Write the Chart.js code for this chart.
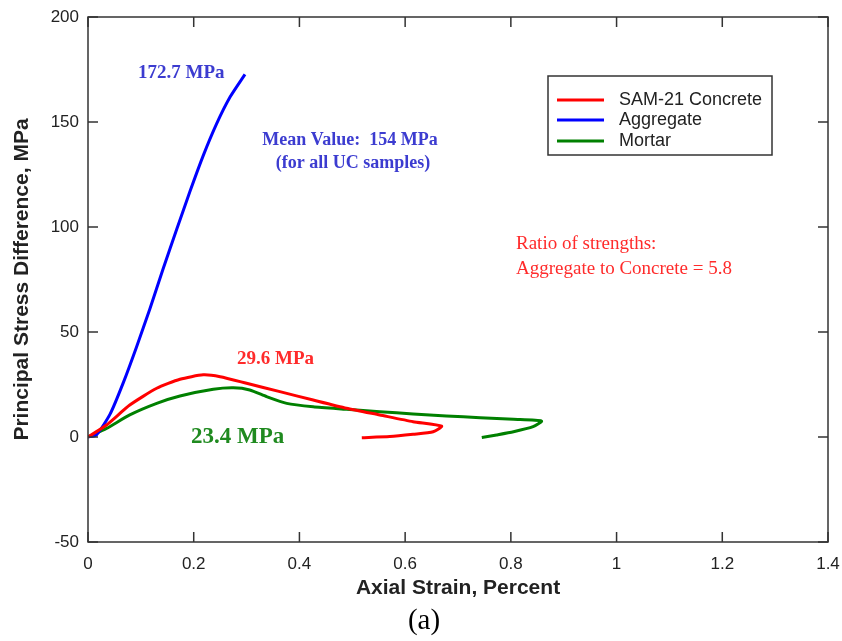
<!DOCTYPE html>
<html>
<head>
<meta charset="utf-8">
<script src="https://cdn.jsdelivr.net/npm/chart.js@4/dist/chart.umd.min.js"></script>
<style>
  html, body { margin: 0; padding: 0; background: #fff; }
  #wrap { width: 842px; height: 641px; position: relative; }
</style>
</head>
<body>
<div id="wrap"><canvas id="strainChart"></canvas></div>
<script>
// 곡선 데이터
const concreteStrain = [0, 0.035, 0.079, 0.13, 0.174, 0.218, 0.25, 0.30, 0.363, 0.426, 0.489, 0.552, 0.615, 0.669, 0.653, 0.615, 0.571, 0.518];
const concreteStress = [0, 5.7, 15.2, 23.2, 27.5, 29.6, 28.7, 25.6, 21.6, 17.6, 13.7, 10.5, 7.3, 5.2, 2.5, 1.3, 0.2, -0.3];

const aggregateStrain = [0, 0.016, 0.042, 0.067, 0.092, 0.117, 0.142, 0.168, 0.193, 0.218, 0.243, 0.269, 0.297];
const aggregateStress = [0, 1, 11, 26, 43, 61, 80, 99, 117, 134, 149, 162, 172.7];

const mortarStrain = [0, 0.035, 0.079, 0.13, 0.174, 0.237, 0.275, 0.306, 0.338, 0.376, 0.426, 0.489, 0.552, 0.615, 0.678, 0.742, 0.805, 0.858, 0.842, 0.805, 0.773, 0.745];
const mortarStress = [0, 4.1, 10.5, 16, 19.5, 22.7, 23.4, 22.4, 19.2, 16, 14.4, 13.2, 12, 11, 10, 9.2, 8.4, 7.6, 4.9, 2.5, 1, -0.2];

const seriesLabels = ["SAM-21 Concrete", "Aggregate", "Mortar"];
const seriesColors = ["#ff0000", "#0000ff", "#008000"];

const xTicks = [0, 0.2, 0.4, 0.6, 0.8, 1, 1.2, 1.4];
const yTicks = [-50, 0, 50, 100, 150, 200];

function toPoints(xs, ys) {
  return xs.map((x, i) => ({ x, y: ys[i] }));
}

// 박스 테두리 + 안쪽 눈금 + 주석 + 범례
const boxPlugin = {
  id: "boxPlugin",
  afterDraw(chart) {
    const ctx = chart.ctx;
    const area = chart.chartArea;
    const xs = chart.scales.x;
    const ys = chart.scales.y;

    ctx.save();
    ctx.strokeStyle = "#333";
    ctx.lineWidth = 1.5;
    ctx.strokeRect(area.left, area.top, area.right - area.left, area.bottom - area.top);

    ctx.beginPath();
    xTicks.forEach((v) => {
      const px = xs.getPixelForValue(v);
      ctx.moveTo(px, area.bottom); ctx.lineTo(px, area.bottom - 10);
      ctx.moveTo(px, area.top); ctx.lineTo(px, area.top + 10);
    });
    yTicks.forEach((v) => {
      const py = ys.getPixelForValue(v);
      ctx.moveTo(area.left, py); ctx.lineTo(area.left + 10, py);
      ctx.moveTo(area.right, py); ctx.lineTo(area.right - 10, py);
    });
    ctx.stroke();

    // 주석 텍스트
    ctx.textBaseline = "middle";
    ctx.textAlign = "left";
    ctx.fillStyle = "#3c3cd0";
    ctx.font = "bold 19px 'Liberation Serif'";
    ctx.fillText("172.7 MPa", 138, 73);
    ctx.font = "bold 18px 'Liberation Serif'";
    ctx.textAlign = "center";
    ctx.fillText("Mean Value:  154 MPa", 350, 140);
    ctx.fillText("(for all UC samples)", 353, 163);

    ctx.textAlign = "left";
    ctx.fillStyle = "#ff2b2b";
    ctx.font = "bold 19px 'Liberation Serif'";
    ctx.fillText("29.6 MPa", 237, 359);
    ctx.font = "19px 'Liberation Serif'";
    ctx.fillText("Ratio of strengths:", 516, 244);
    ctx.fillText("Aggregate to Concrete = 5.8", 516, 269);

    ctx.fillStyle = "#1f8a1f";
    ctx.font = "bold 23px 'Liberation Serif'";
    ctx.fillText("23.4 MPa", 191, 437);

    // 범례
    ctx.fillStyle = "#fff";
    ctx.fillRect(548, 76, 224, 79);
    ctx.strokeStyle = "#333";
    ctx.lineWidth = 1.5;
    ctx.strokeRect(548, 76, 224, 79);
    const rows = [100, 120, 141];
    ctx.font = "18px 'Liberation Sans'";
    chart.data.datasets.forEach((ds, i) => {
      ctx.strokeStyle = ds.borderColor;
      ctx.lineWidth = 3;
      ctx.beginPath();
      ctx.moveTo(557, rows[i]);
      ctx.lineTo(604, rows[i]);
      ctx.stroke();
      ctx.fillStyle = "#222";
      ctx.fillText(ds.label, 619, rows[i]);
    });

    // 그림 번호
    ctx.textAlign = "center";
    ctx.fillStyle = "#000";
    ctx.font = "29px 'Liberation Serif'";
    ctx.fillText("(a)", 424, 621);
    ctx.restore();
  }
};

const ctx = document.getElementById("strainChart").getContext("2d");

new Chart(ctx, {
  type: "scatter",
  data: {
    datasets: [
      {
        label: seriesLabels[0],
        data: toPoints(concreteStrain, concreteStress),
        borderColor: seriesColors[0],
        backgroundColor: seriesColors[0]
      },
      {
        label: seriesLabels[1],
        data: toPoints(aggregateStrain, aggregateStress),
        borderColor: seriesColors[1],
        backgroundColor: seriesColors[1]
      },
      {
        label: seriesLabels[2],
        data: toPoints(mortarStrain, mortarStress),
        borderColor: seriesColors[2],
        backgroundColor: seriesColors[2]
      }
    ].map((ds) => ({ ...ds, showLine: true, borderWidth: 3, pointRadius: 0, tension: 0.2 }))
  },
  options: {
    responsive: true,
    maintainAspectRatio: false,
    animation: false,
    layout: {
      padding: { top: 17, right: 14, left: 0, bottom: 0 }
    },
    plugins: {
      legend: { display: false },
      tooltip: { enabled: false }
    },
    scales: {
      x: {
        type: "linear",
        min: 0,
        max: 1.4,
        afterFit: (scale) => {
          scale.height = 99;
          scale.paddingLeft = 0;
          scale.paddingRight = 0;
        },
        afterBuildTicks: (scale) => { scale.ticks = xTicks.map((v) => ({ value: v })); },
        ticks: {
          color: "#222",
          padding: 12,
          font: { family: "'Liberation Sans'", size: 17 },
          callback: (v) => String(v)
        },
        grid: { display: false, drawTicks: false },
        border: { display: false },
        title: {
          display: true,
          text: "Axial Strain, Percent",
          color: "#222",
          font: { family: "'Liberation Sans'", size: 21, weight: "bold" },
          padding: { top: 0, bottom: 40 }
        }
      },
      y: {
        type: "linear",
        min: -50,
        max: 200,
        afterFit: (scale) => {
          scale.width = 88;
          scale.paddingTop = 0;
          scale.paddingBottom = 0;
        },
        afterBuildTicks: (scale) => { scale.ticks = yTicks.map((v) => ({ value: v })); },
        ticks: {
          color: "#222",
          padding: 9,
          font: { family: "'Liberation Sans'", size: 17 }
        },
        grid: { display: false, drawTicks: false },
        border: { display: false },
        title: {
          display: true,
          text: "Principal Stress Difference, MPa",
          color: "#222",
          font: { family: "'Liberation Sans'", size: 21, weight: "bold" },
          padding: { top: 10, bottom: 0 }
        }
      }
    }
  },
  plugins: [boxPlugin]
});
</script>
</body>
</html>
